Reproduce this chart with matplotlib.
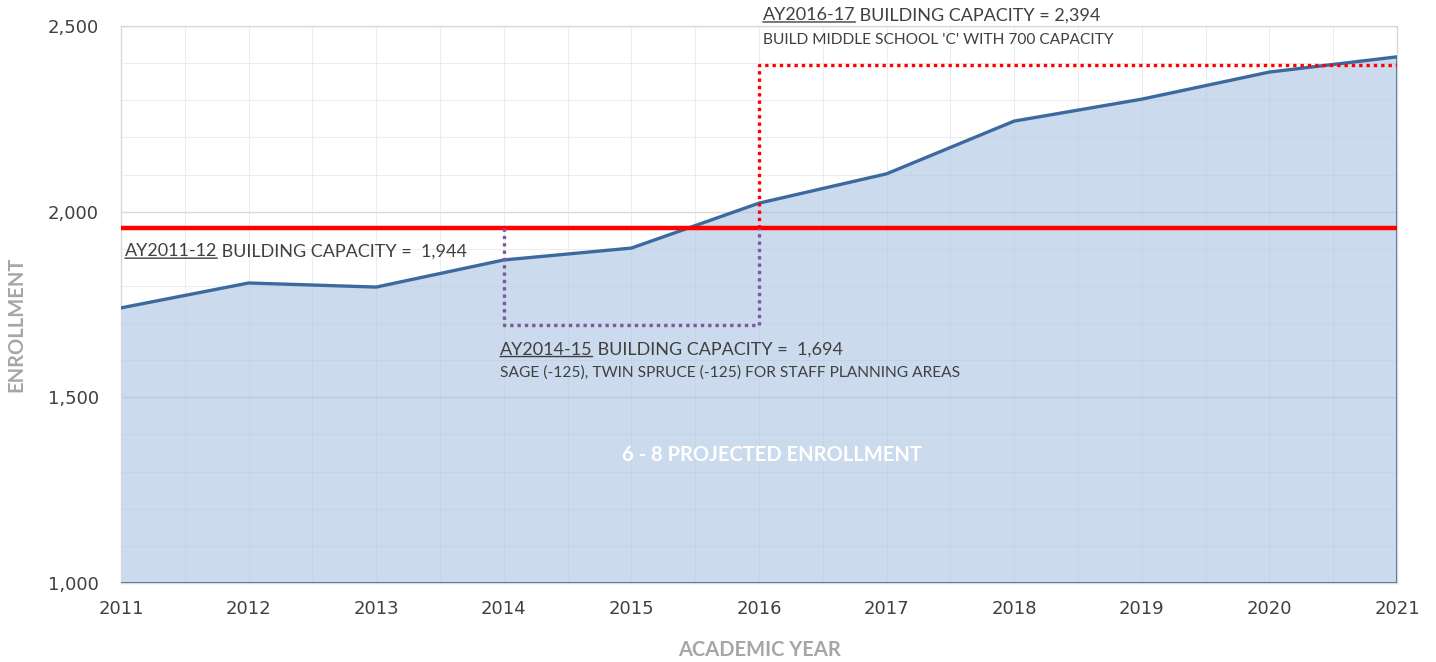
import matplotlib
matplotlib.use("Agg")
import matplotlib.pyplot as plt
import numpy as np

# enrollment
years = [2011, 2012, 2013, 2014, 2015, 2016, 2017, 2018, 2019, 2020, 2021]
enrollment = [1741, 1808, 1797, 1870, 1902, 2023, 2102, 2244, 2303, 2376, 2417]

# capacity levels (as drawn) and the year each one starts
cap_2011 = 1955
cap_2014 = 1694
cap_2016 = 2394
cap_2014_years = [2014, 2016]
cap_2016_years = [2016, 2021]

y_ticks = [1000, 1500, 2000, 2500]
y_tick_labels = ["1,000", "1,500", "2,000", "2,500"]

TEXT = "#404040"
AXIS_GRAY = "#A6A6A6"
BLUE_LINE = "#3D6A9E"
BLUE_FILL = "#A9C2E0"
PURPLE = "#7A5A9C"

plt.rcParams['font.family'] = ['Lato', 'DejaVu Sans']

fig = plt.figure(figsize=(14.36, 6.62), dpi=100)
ax = fig.add_axes([0.0843, 0.1193, 0.8885, 0.8414])

# area + outline
ax.fill_between(years, 1000, enrollment, color=BLUE_FILL, alpha=0.6, lw=0, zorder=2)
ax.plot(years, enrollment, color=BLUE_LINE, lw=2.4, zorder=4, solid_joinstyle='round')
ax.plot([years[-1], years[-1]], [1000, enrollment[-1]], color=BLUE_LINE, lw=2.2, alpha=0.8, zorder=4)
ax.plot([years[0], years[-1]], [1000, 1000], color=BLUE_LINE, lw=2.2, alpha=0.8, zorder=4)

# capacity lines
ax.axhline(cap_2011, color="#FF0000", lw=3.2, zorder=5)
ax.plot([cap_2014_years[0], cap_2014_years[0], cap_2014_years[1], cap_2014_years[1]],
        [cap_2011, cap_2014, cap_2014, cap_2011],
        color=PURPLE, lw=2.4, ls=(0, (1, 1.2)), zorder=5)
ax.plot([cap_2016_years[0], cap_2016_years[0], cap_2016_years[1]],
        [cap_2011, cap_2016, cap_2016],
        color="#FF0000", lw=2.4, ls=(0, (1, 1.2)), zorder=5)

ax.set_xlim(2011, 2021)
ax.set_ylim(1000, 2500)
ax.set_yticks(y_ticks)
ax.set_yticklabels(y_tick_labels)
ax.set_xticks(years)
ax.set_xticklabels([str(y) for y in years])
ax.set_xticks(np.arange(2011.5, 2021, 1.0), minor=True)
ax.set_yticks(np.arange(1100, 2500, 100), minor=True)
ax.grid(which='major', axis='y', color="#D9D9D9", lw=1.0, zorder=0)
ax.grid(which='minor', color="#EDEDED", lw=0.8, zorder=0)
ax.grid(which='major', axis='x', color="#EDEDED", lw=0.8, zorder=0)
ax.set_axisbelow(True)
ax.tick_params(which='both', length=0)
ax.tick_params(axis='y', pad=16, labelsize=13, labelcolor=TEXT)
ax.tick_params(axis='x', pad=12, labelsize=13, labelcolor=TEXT)
for lab in ax.get_xticklabels() + ax.get_yticklabels():
    lab.set_family(['DejaVu Sans Condensed', 'DejaVu Sans'])
for s in ax.spines.values():
    s.set_color("#D9D9D9")
    s.set_linewidth(1.0)

ax.set_ylabel("ENROLLMENT", color=AXIS_GRAY, fontsize=14.5, fontweight='bold')
ax.set_xlabel("ACADEMIC YEAR", color=AXIS_GRAY, fontsize=14.5, fontweight='bold')
ax.yaxis.set_label_coords(-0.0744, 0.464)
ax.xaxis.set_label_coords(0.5, -0.1025)


def underlined_label(x, y, head, tail, size):
    t = ax.text(x, y, head, fontsize=size, color=TEXT, ha='left', va='center',
                transform=ax.transData, zorder=6, clip_on=False)
    ax.annotate(tail, xy=(1, 0.5), xycoords=t, fontsize=size, color=TEXT,
                ha='left', va='center', zorder=6, annotation_clip=False)
    ax.annotate('', xy=(0, 0.08), xycoords=t, xytext=(1, 0.08), textcoords=t,
                arrowprops=dict(arrowstyle='-', color=TEXT, lw=1.0, shrinkA=0, shrinkB=0),
                annotation_clip=False)
    return t


underlined_label(2011.03, 1893, "AY2011-12", " BUILDING CAPACITY =  1,944", 13)
underlined_label(2013.97, 1628, "AY2014-15", " BUILDING CAPACITY =  1,694", 13)
ax.text(2013.97, 1568, "SAGE (-125), TWIN SPRUCE (-125) FOR STAFF PLANNING AREAS",
        fontsize=11.2, color=TEXT, ha='left', va='center', zorder=6)
underlined_label(2016.03, 2529, "AY2016-17", " BUILDING CAPACITY = 2,394", 13)
ax.text(2016.03, 2462, "BUILD MIDDLE SCHOOL 'C' WITH 700 CAPACITY",
        fontsize=11.2, color=TEXT, ha='left', va='center', zorder=6)

ax.text(2016.1, 1345, "6 - 8 PROJECTED ENROLLMENT", fontsize=14.5, color="white",
        fontweight='bold', ha='center', va='center', zorder=6)

fig.savefig("out.png", dpi=100)
